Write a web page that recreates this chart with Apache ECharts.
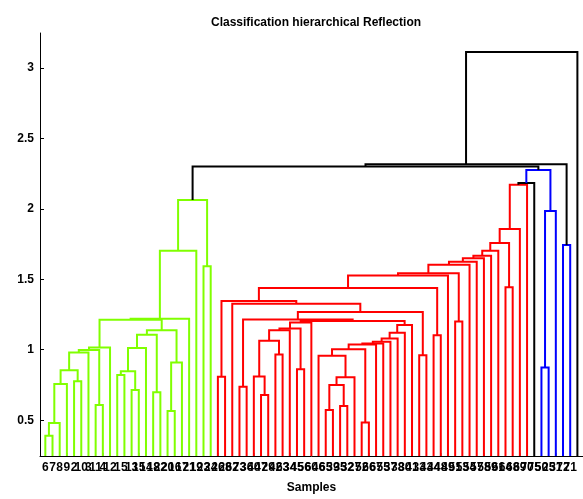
<!DOCTYPE html>
<html>
<head>
<meta charset="utf-8">
<script src="https://cdn.jsdelivr.net/npm/echarts@6/dist/echarts.min.js"></script>
<style>
  html, body { margin: 0; padding: 0; background: #fff; }
  #chart { width: 583px; height: 499px; }
</style>
</head>
<body>
<div id="chart"></div>
<script>
// Leaf labels, in dendrogram order (left to right)
const leafLabels = [
  6, 7, 8, 9, 2, 10, 3, 11, 4, 12, 1, 5, 13, 15, 14, 18, 22, 20, 16, 17, 21, 19, 23, 24,
  26, 28, 62, 73, 36, 40, 47, 29, 42, 63, 34, 45, 56, 60, 46, 65, 39, 35, 32, 27, 52, 66,
  67, 55, 37, 38, 30, 41, 33, 43, 44, 48, 49, 51, 53, 54, 57, 58, 59, 61, 64, 68, 69, 70,
  75, 50, 25, 31, 72, 71, 74
];

// Linkage: child ids 1..75 are leaf positions, 75+k is the k-th merge
const mergeLeft = [
  1, 76, 77, 5, 78, 80, 8, 81, 83, 11, 13, 85, 87, 16, 88, 18, 91, 90, 84, 94, 95, 23, 96,
  25, 28, 31, 30, 33, 102, 36, 104, 106, 107, 40, 42, 109, 111, 39, 45, 113, 115, 116, 117,
  118, 119, 120, 108, 100, 53, 123, 27, 99, 55, 127, 129, 58, 130, 132, 133, 134, 135, 136,
  65, 137, 139, 140,
  141, 70, 143, 142, 73, 98, 147, 148
];
const mergeRight = [
  2, 3, 4, 6, 79, 7, 9, 82, 10, 12, 14, 86, 15, 17, 89, 19, 20, 92, 93, 21, 22, 24, 97,
  26, 29, 32, 101, 34, 103, 37, 35, 105, 38, 41, 43, 110, 44, 112, 46, 114, 47, 48, 49,
  50, 51, 52, 121, 122, 54, 124, 125, 126, 56, 128, 57, 59, 131, 60, 61, 62, 63, 64,
  66, 138, 67, 68,
  69, 71, 72, 144, 74, 145, 146, 75
];
const mergeHeight = [
  0.39, 0.48, 0.756, 0.776, 0.855, 0.98, 0.608, 0.998, 1.015, 0.82, 0.714, 0.848, 1.012,
  0.698, 1.107, 0.566, 0.91, 1.138, 1.213, 1.22, 1.703, 1.593, 2.063,
  0.809, 0.738, 0.679, 0.81, 0.966, 1.063, 0.862, 1.138, 1.15, 1.193, 0.573, 0.601, 0.75,
  0.804, 0.957, 0.484, 1.004, 1.037, 1.044, 1.056, 1.079, 1.121, 1.176, 1.203, 1.215, 0.96,
  1.268, 1.326, 1.345, 1.102, 1.437, 1.526, 1.201, 1.543, 1.602, 1.625, 1.649, 1.667, 1.703,
  1.444, 1.757, 1.856, 2.17,
  2.182, 0.874, 1.985, 2.275, 1.743, 2.3, 2.315, 3.113
];
// Cluster of each merge: g = first group, r = second, b = third, k = above threshold
const mergeCluster = ('g'.repeat(23) + 'r'.repeat(43) + 'k' + 'bbbb' + 'kkk').split('');

const yTickValues = [0.5, 1, 1.5, 2, 2.5, 3];

const clusterColors = { g: '#80ff00', r: '#ff0000', b: '#0000ff', k: '#000000' };
const yMin = 0.246, yMax = 3.247;

const n = leafLabels.length;
const leafPositions = leafLabels.map((_, i) => i + 1);
const nodeX = [], nodeY = [];
leafPositions.forEach(p => { nodeX[p] = p; nodeY[p] = yMin; });

const links = mergeLeft.map((a, k) => {
  const b = mergeRight[k];
  const h = mergeHeight[k];
  const id = n + k + 1;
  nodeX[id] = (nodeX[a] + nodeX[b]) / 2;
  nodeY[id] = h;
  return {
    coords: [[nodeX[a], nodeY[a]], [nodeX[a], h], [nodeX[b], h], [nodeX[b], nodeY[b]]],
    lineStyle: { color: clusterColors[mergeCluster[k]] }
  };
});

const font = 'Liberation Sans, Arial, Helvetica, sans-serif';
const chart = echarts.init(document.getElementById('chart'));
chart.setOption({
  animation: false,
  backgroundColor: '#fff',
  title: {
    text: 'Classification hierarchical Reflection',
    left: 311, top: 12, textAlign: 'center',
    textStyle: { fontFamily: font, fontWeight: 'bold', fontSize: 12, color: '#000' }
  },
  grid: { left: 40, right: 0, top: 33, bottom: 41 },
  xAxis: {
    type: 'value', min: 0.26, max: 75.78,
    name: 'Samples', nameLocation: 'middle', nameGap: 26,
    nameTextStyle: { fontFamily: font, fontWeight: 'bold', fontSize: 12, color: '#000' },
    axisLine: { show: true, lineStyle: { color: '#000', width: 1 } },
    axisTick: { show: true, inside: true, length: 3, customValues: leafPositions,
                lineStyle: { color: '#aaa' } },
    axisLabel: { customValues: leafPositions, margin: 6,
                 formatter: v => String(leafLabels[Math.round(v) - 1]),
                 fontFamily: font, fontWeight: 'bold', fontSize: 12, color: '#000' },
    splitLine: { show: false }
  },
  yAxis: {
    type: 'value', min: yMin, max: yMax,
    axisLine: { show: true, lineStyle: { color: '#000', width: 1 } },
    axisTick: { show: true, inside: true, length: 4, customValues: yTickValues,
                lineStyle: { color: '#000' } },
    axisLabel: { customValues: yTickValues, margin: 6,
                 fontFamily: font, fontWeight: 'bold', fontSize: 12, color: '#000' },
    splitLine: { show: false }
  },
  series: [{
    type: 'lines',
    coordinateSystem: 'cartesian2d',
    polyline: true,
    silent: true,
    lineStyle: { width: 2, opacity: 1 },
    data: links
  }]
});
</script>
</body>
</html>
